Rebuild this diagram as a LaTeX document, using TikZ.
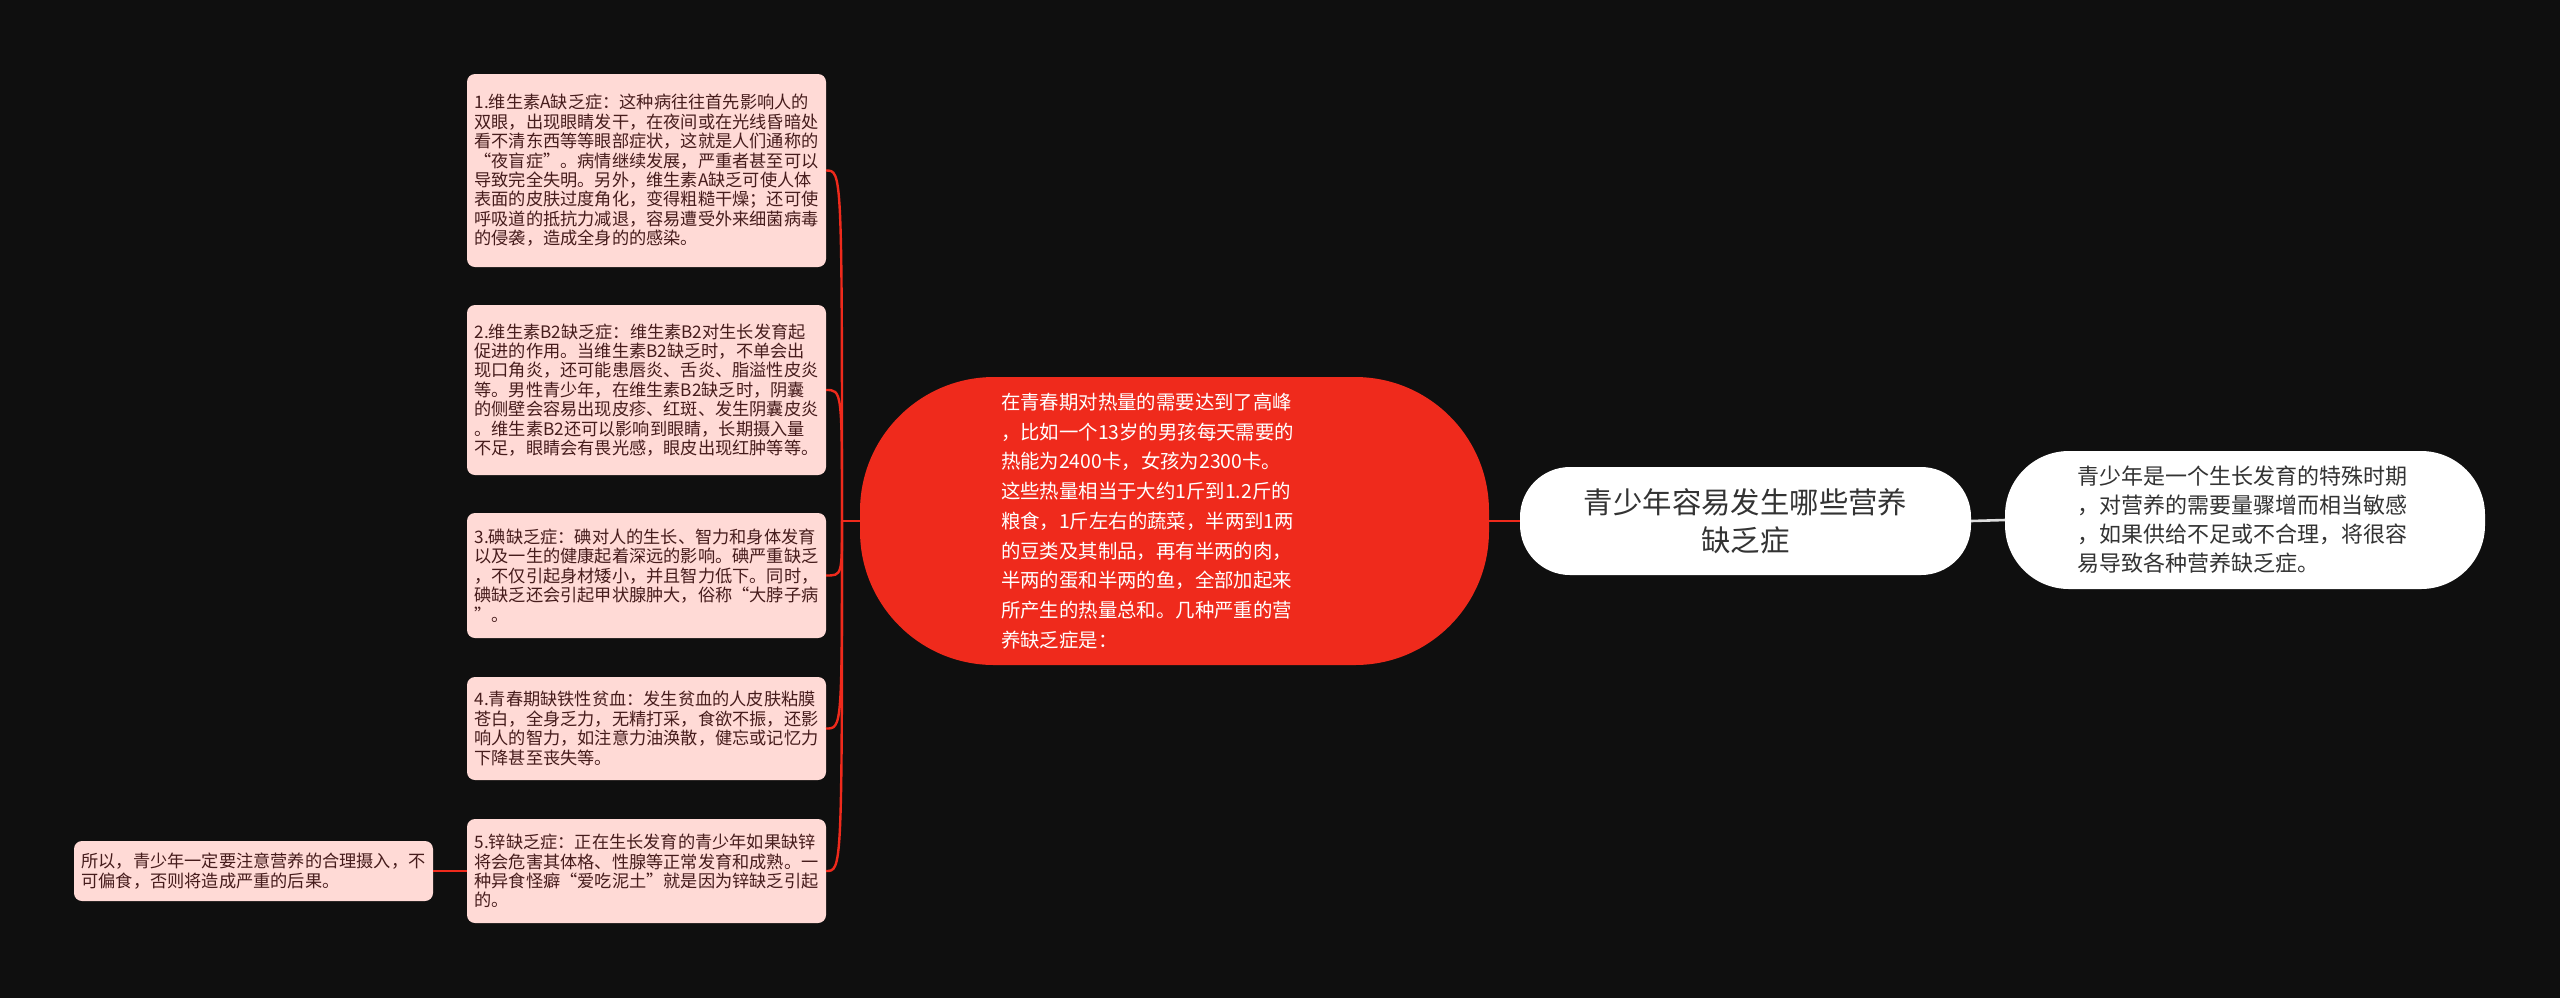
\documentclass[tikz,border=0pt]{standalone}
\usepackage{fontspec}
\setmainfont{Noto Sans CJK SC}
\definecolor{bgblack}{HTML}{0F0F0F}
\definecolor{topicred}{HTML}{EF2A1C}
\definecolor{leafpink}{HTML}{FFDAD6}
\definecolor{leafbrown}{HTML}{461C1C}
\definecolor{rootgray}{HTML}{333333}
\definecolor{linegray}{HTML}{DDDDDD}

\begin{document}
\begin{tikzpicture}
[x=0.5pt,y=-0.5pt,%
  every node/.style={inner sep=0pt,outer sep=0pt},%
  leaf/.style={fill=leafpink,text=leafbrown,rounded corners=4pt,text width=172pt,
    inner xsep=3.75pt,align=left,font=\fontsize{8.6}{9.7}\selectfont},%
  link/.style={draw=topicred,line width=1.2pt}]
\fill[bgblack] (0,0) rectangle (2560,998);
\node[fill=white,text=rootgray,rounded corners=25pt,minimum width=225.5pt,minimum height=54pt,
  align=center,font=\fontsize{14.7}{19}\selectfont] (root) at (1745.5,521)
  {青少年容易发生哪些营养\\缺乏症};
\node[fill=white,text=rootgray,rounded corners=32pt,minimum width=240pt,minimum height=69pt,
  text width=168pt,align=left,font=\fontsize{11}{14.5}\selectfont] (intro) at (2245,520)
  {青少年是一个生长发育的特殊时期\\，对营养的需要量骤增而相当敏感\\，如果供给不足或不合理，将很容\\易导致各种营养缺乏症。};
\node[fill=topicred,text=white,rounded corners=67pt,minimum width=314.5pt,minimum height=144pt,
  text width=173.5pt,align=left,font=\fontsize{9.7}{14.85}\selectfont] (heat) at (1174.5,521)
  {在青春期对热量的需要达到了高峰\\，比如一个13岁的男孩每天需要的\\热能为2400卡，女孩为2300卡。\\这些热量相当于大约1斤到1.2斤的\\粮食，1斤左右的蔬菜，半两到1两\\的豆类及其制品，再有半两的肉，\\半两的蛋和半两的鱼，全部加起来\\所产生的热量总和。几种严重的营\\养缺乏症是：};
\node[leaf,minimum height=96.5pt] (b1) at (646.5,170.5)
  {1.维生素A缺乏症：这种病往往首先影响人的\\双眼，出现眼睛发干，在夜间或在光线昏暗处\\看不清东西等等眼部症状，这就是人们通称的\\“夜盲症”。病情继续发展，严重者甚至可以\\导致完全失明。另外，维生素A缺乏可使人体\\表面的皮肤过度角化，变得粗糙干燥；还可使\\呼吸道的抵抗力减退，容易遭受外来细菌病毒\\的侵袭，造成全身的的感染。};
\node[leaf,minimum height=85pt] (b2) at (646.5,390)
  {2.维生素B2缺乏症：维生素B2对生长发育起\\促进的作用。当维生素B2缺乏时，不单会出\\现口角炎，还可能患唇炎、舌炎、脂溢性皮炎\\等。男性青少年，在维生素B2缺乏时，阴囊\\的侧壁会容易出现皮疹、红斑、发生阴囊皮炎\\。维生素B2还可以影响到眼睛，长期摄入量\\不足，眼睛会有畏光感，眼皮出现红肿等等。};
\node[leaf,minimum height=62.5pt] (b3) at (646.5,575.5)
  {3.碘缺乏症：碘对人的生长、智力和身体发育\\以及一生的健康起着深远的影响。碘严重缺乏\\，不仅引起身材矮小，并且智力低下。同时，\\碘缺乏还会引起甲状腺肿大，俗称“大脖子病\\”。};
\node[leaf,minimum height=51.5pt] (b4) at (646.5,728.5)
  {4.青春期缺铁性贫血：发生贫血的人皮肤粘膜\\苍白，全身乏力，无精打采，食欲不振，还影\\响人的智力，如注意力油涣散，健忘或记忆力\\下降甚至丧失等。};
\node[leaf,minimum height=52pt] (b5) at (646.5,871)
  {5.锌缺乏症：正在生长发育的青少年如果缺锌\\将会危害其体格、性腺等正常发育和成熟。一\\种异食怪癖“爱吃泥土”就是因为锌缺乏引起\\的。};
\node[leaf,minimum height=30pt] (moral) at (253.5,871)
  {所以，青少年一定要注意营养的合理摄入，不\\可偏食，否则将造成严重的后果。};
\coordinate (fork) at (842,521);
\draw[link] (heat.west) -- (fork);
\foreach \i in {1,...,5}
  \draw[link] (fork) .. controls (fork |- b\i.east) .. (b\i.east);
\draw[link] (b5.west) -- (moral.east);
\draw[link] (heat.east) -- (root.west);
\draw[draw=linegray,line width=1.3pt] (root.east) -- (intro.west);
\end{tikzpicture}
\end{document}
